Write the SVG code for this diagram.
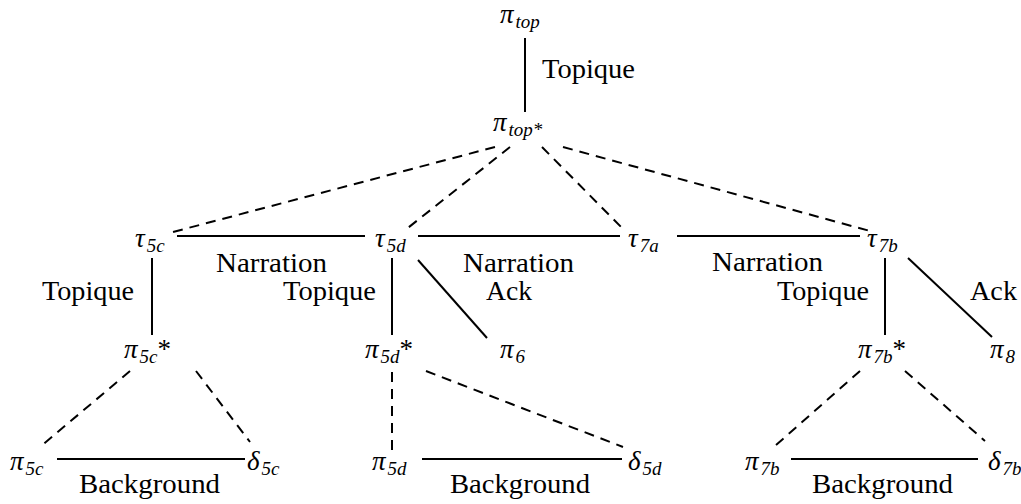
<svg xmlns="http://www.w3.org/2000/svg" width="1021" height="504" viewBox="0 0 1021 504">
<style>
.f{font-family:"Liberation Serif","Times New Roman","DejaVu Serif","Noto Serif",serif}
.lbl{font-size:27px;fill:#000}
.m{font-size:27px;font-style:italic;fill:#000}
.s{font-size:19px}
.solid{stroke:#000;stroke-width:2;fill:none}
.dash{stroke:#000;stroke-width:2;fill:none;stroke-dasharray:10 7}
</style>
<rect x="0" y="0" width="1021" height="504" fill="#fff"/>
<g id="connectors">
<line class="solid" x1="525" y1="38" x2="525" y2="112"/>
<line class="dash" x1="495" y1="147" x2="173" y2="232"/>
<line class="dash" x1="510" y1="147" x2="404" y2="231"/>
<line class="dash" x1="542" y1="147" x2="625" y2="231"/>
<line class="dash" x1="563" y1="147" x2="870" y2="231"/>
<line class="solid" x1="177" y1="236" x2="365" y2="236"/>
<line class="solid" x1="418" y1="236" x2="620" y2="236"/>
<line class="solid" x1="677" y1="236" x2="860" y2="236"/>
<line class="solid" x1="152" y1="258" x2="152" y2="335"/>
<line class="solid" x1="392" y1="258" x2="392" y2="335"/>
<line class="solid" x1="885" y1="258" x2="885" y2="335"/>
<line class="solid" x1="418" y1="260" x2="487" y2="338"/>
<line class="solid" x1="908" y1="258" x2="992" y2="337"/>
<line class="dash" x1="130" y1="371" x2="40" y2="447"/>
<line class="dash" x1="196" y1="371" x2="250" y2="442"/>
<line class="dash" x1="392" y1="372" x2="392" y2="450"/>
<line class="dash" x1="426" y1="371" x2="623" y2="447"/>
<line class="dash" x1="860" y1="371" x2="775" y2="446"/>
<line class="dash" x1="905" y1="371" x2="985" y2="441"/>
<line class="solid" x1="57" y1="459" x2="245" y2="459"/>
<line class="solid" x1="422" y1="459" x2="622" y2="459"/>
<line class="solid" x1="791" y1="459" x2="978" y2="459"/>
</g>
<g id="edge-labels" class="f">
<text class="lbl" x="542" y="78" textLength="93" lengthAdjust="spacingAndGlyphs">Topique</text>
<text class="lbl" x="42" y="300" textLength="92" lengthAdjust="spacingAndGlyphs">Topique</text>
<text class="lbl" x="216" y="272" textLength="111" lengthAdjust="spacingAndGlyphs">Narration</text>
<text class="lbl" x="283" y="300" textLength="93" lengthAdjust="spacingAndGlyphs">Topique</text>
<text class="lbl" x="463" y="272" textLength="111" lengthAdjust="spacingAndGlyphs">Narration</text>
<text class="lbl" x="486" y="300" textLength="46" lengthAdjust="spacingAndGlyphs">Ack</text>
<text class="lbl" x="712" y="271" textLength="111" lengthAdjust="spacingAndGlyphs">Narration</text>
<text class="lbl" x="777" y="300" textLength="92" lengthAdjust="spacingAndGlyphs">Topique</text>
<text class="lbl" x="970" y="300" textLength="47" lengthAdjust="spacingAndGlyphs">Ack</text>
<text class="lbl" x="79" y="493" textLength="141" lengthAdjust="spacingAndGlyphs">Background</text>
<text class="lbl" x="450" y="493" textLength="140" lengthAdjust="spacingAndGlyphs">Background</text>
<text class="lbl" x="812" y="493" textLength="141" lengthAdjust="spacingAndGlyphs">Background</text>
</g>
<g class="f">
<g id="pi_top"><text class="m" x="500" y="23">π<tspan class="s" dy="5" dx="2">top</tspan></text></g>
<g id="pi_top_star"><text class="m" x="493" y="131">π<tspan class="s" dy="5" dx="2">top*</tspan></text></g>
<g id="tau_5c"><text class="m" x="135" y="247">τ<tspan class="s" dy="5" dx="2">5c</tspan></text></g>
<g id="tau_5d"><text class="m" x="375" y="247">τ<tspan class="s" dy="5" dx="2">5d</tspan></text></g>
<g id="tau_7a"><text class="m" x="628" y="247">τ<tspan class="s" dy="5" dx="2">7a</tspan></text></g>
<g id="tau_7b"><text class="m" x="867" y="247">τ<tspan class="s" dy="5" dx="2">7b</tspan></text></g>
<g id="pi_5c_star"><text class="m" x="124" y="358">π<tspan class="s" dy="5" dx="2">5c</tspan><tspan dy="-5" font-style="normal">*</tspan></text></g>
<g id="pi_5d_star"><text class="m" x="365" y="358">π<tspan class="s" dy="5" dx="2">5d</tspan><tspan dy="-5" font-style="normal">*</tspan></text></g>
<g id="pi_6"><text class="m" x="500" y="358">π<tspan class="s" dy="5" dx="2">6</tspan></text></g>
<g id="pi_7b_star"><text class="m" x="858" y="358">π<tspan class="s" dy="5" dx="2">7b</tspan><tspan dy="-5" font-style="normal">*</tspan></text></g>
<g id="pi_8"><text class="m" x="990" y="358">π<tspan class="s" dy="5" dx="2">8</tspan></text></g>
<g id="pi_5c"><text class="m" x="10" y="470">π<tspan class="s" dy="5" dx="2">5c</tspan></text></g>
<g id="delta_5c"><text class="m" x="247" y="470">δ<tspan class="s" dy="5" dx="2">5c</tspan></text></g>
<g id="pi_5d"><text class="m" x="372" y="470">π<tspan class="s" dy="5" dx="2">5d</tspan></text></g>
<g id="delta_5d"><text class="m" x="628" y="470">δ<tspan class="s" dy="5" dx="2">5d</tspan></text></g>
<g id="pi_7b"><text class="m" x="745" y="470">π<tspan class="s" dy="5" dx="2">7b</tspan></text></g>
<g id="delta_7b"><text class="m" x="988" y="470">δ<tspan class="s" dy="5" dx="2">7b</tspan></text></g>
</g>
</svg>
